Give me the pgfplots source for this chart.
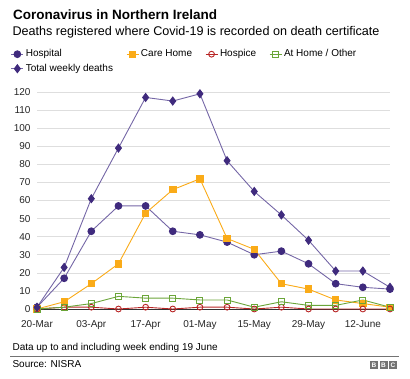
\documentclass[border=0pt]{standalone}
\usepackage{pgfplots}
\pgfplotsset{compat=1.18}
\usepackage{fontspec}
\setmainfont{Liberation Sans}
\definecolor{purpm}{HTML}{3F2A7D}
\definecolor{purpl}{HTML}{7466A6}
\definecolor{orng}{HTML}{FAAB18}
\definecolor{redc}{HTML}{B82525}
\definecolor{grn}{HTML}{6BA539}
\definecolor{gridc}{HTML}{DEDEDE}
\begin{document}
\begin{tikzpicture}
\path[use as bounding box] (0pt,0pt) rectangle (410pt,-378pt);
\node[anchor=west,font=\bfseries\fontsize{13.5}{16}\selectfont] at (9.5pt,-14.5pt) {Coronavirus in Northern Ireland};
\node[anchor=west,font=\fontsize{12.6}{14}\selectfont] at (9pt,-32pt) {Deaths registered where Covid-19 is recorded on death certificate};
\begin{axis}[
  at={(37pt,-309pt)}, anchor=south west,
  scale only axis, width=353pt, height=217pt,
  xmin=0, xmax=13, ymin=0, ymax=120,
  clip=false,
  axis line style={draw=none},
  axis x line*=bottom,
  ytick={0,10,...,120},
  xtick={0,2,4,6,8,10,12},
  xticklabels={20-Mar,03-Apr,17-Apr,01-May,15-May,29-May,12-June},
  ymajorgrids, grid style={gridc, line width=0.6pt},
  major tick length=0pt,
  tick label style={font=\fontsize{10}{12}\selectfont, text=black!85},
  yticklabel style={xshift=-3pt},
  xticklabel style={yshift=-8pt},
  /pgf/number format/assume math mode=true,
  legend columns=4,
  legend cell align=left,
  legend style={at={(-0.083,1.212)}, anchor=north west, draw=none, fill=none,
    font=\fontsize{10}{12}\selectfont, row sep=2.5pt,
    nodes={text height=7.5pt, text depth=2.5pt, inner ysep=1pt},
    /tikz/every even column/.append style={column sep=11pt}},
  legend image code/.code={\draw[mark repeat=2,mark phase=2] plot coordinates {(0pt,0pt)(6pt,0pt)(12pt,0pt)};},
  every axis plot/.append style={line width=0.9pt},
]
\draw[black!80, line width=0.9pt] (axis cs:0,0) -- (axis cs:13,0);
\addplot[purpl, mark=*, mark size=3.4pt, mark options={fill=purpm, draw=purpm}] coordinates {
(0,1)(1,17)(2,43)(3,57)(4,57)(5,43)(6,41)(7,37)(8,30)(9,32)(10,25)(11,14)(12,12)(13,11)};
\addlegendentry{Hospital}
\addplot[orng, mark=square*, mark size=3.2pt, mark options={fill=orng, draw=orng}] coordinates {
(0,0)(1,4)(2,14)(3,25)(4,53)(5,66)(6,72)(7,39)(8,33)(9,14)(10,11)(11,5)(12,3)(13,1)};
\addlegendentry{Care Home}
\addplot[redc, mark=o, mark size=2.9pt, mark options={fill=white, draw=redc, line width=0.9pt}] coordinates {
(0,0)(1,1)(2,1)(3,0)(4,1)(5,0)(6,1)(7,1)(8,0)(9,1)(10,0)(11,0)(12,0)(13,0)};
\addlegendentry{Hospice}
\addplot[grn, mark=square, mark size=3pt, mark options={fill=white, draw=grn, line width=0.9pt}] coordinates {
(0,0)(1,1)(2,3)(3,7)(4,6)(5,6)(6,5)(7,5)(8,1)(9,4)(10,2)(11,2)(12,5)(13,1)};
\addlegendentry{At Home / Other}
\addplot[purpl, mark=diamond*, mark size=4pt, mark options={fill=purpm, draw=purpm}] coordinates {
(0,1)(1,23)(2,61)(3,89)(4,117)(5,115)(6,119)(7,82)(8,65)(9,52)(10,38)(11,21)(12,21)(13,12)};
\addlegendentry{Total weekly deaths}
\end{axis}
\node[anchor=west,font=\fontsize{10}{12}\selectfont] at (9pt,-348pt) {Data up to and including week ending 19 June};
\draw[black!55, line width=0.7pt] (10pt,-356pt) -- (399pt,-356pt);
\node[anchor=west,font=\fontsize{10}{12}\selectfont] at (9pt,-364.5pt) {Source: NISRA};
\foreach \i/\l in {0/B,1/B,2/C} {
  \node[fill=black!55, text=white, inner sep=0pt, minimum width=8pt, minimum height=8pt, font=\bfseries\fontsize{6.5}{7}\selectfont] at ({374pt+\i*9.5pt},-365pt) {\l};
}
\end{tikzpicture}
\end{document}
